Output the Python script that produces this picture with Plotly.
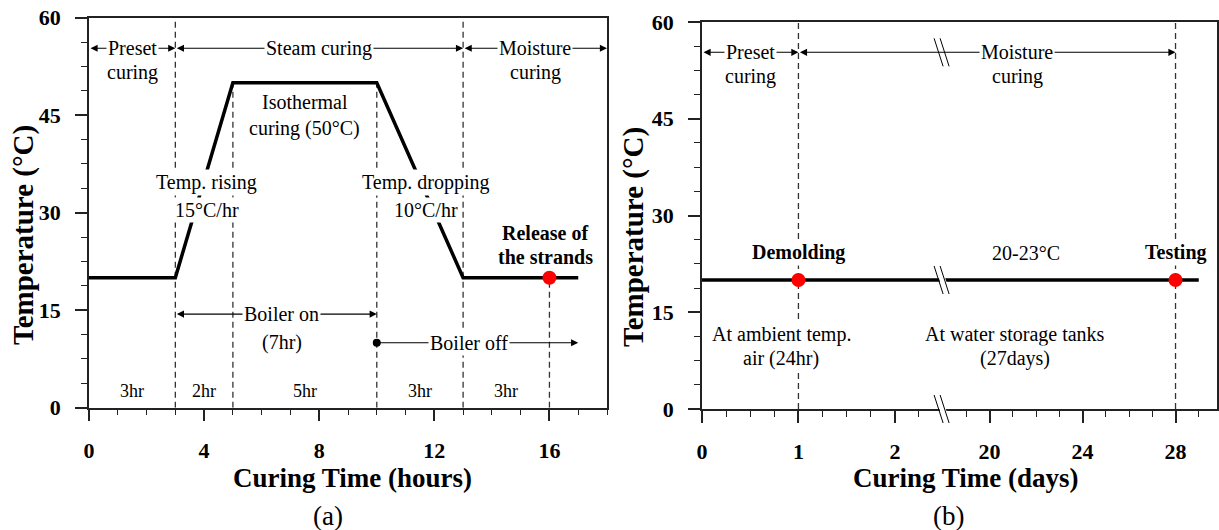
import plotly.graph_objects as go

FONT = "Liberation Serif"

# ---------------- Panel (a) data ----------------
hours_a = [0, 3, 5, 10, 13, 17]
temp_a = [20, 20, 50, 50, 20, 20]
guide_x_a = [3, 5, 10, 13, 16]
guide_top_a = [60, 50, 50, 60, 20]
release_hour = [16]
release_temp = [20]
dur_labels_a = ["3hr", "2hr", "5hr", "3hr", "3hr"]
dur_x_a = [1.5, 4, 7.5, 11.5, 14.5]
xticks_a = [0, 4, 8, 12, 16]
yticks = [0, 15, 30, 45, 60]

# ---------------- Panel (b) data ----------------
days_b = [0, 29]
temp_b = [20, 20]
event_days = [1, 28]
event_temp = [20, 20]
event_labels = ["Demolding", "Testing"]
guide_x_b = [1, 28]
xticks_b = [0, 1, 2, 20, 24, 28]
BREAK_LO, BREAK_HI = 2.5, 18      # broken axis: 0-2.5 days, then 18-29.8 days
LATE_SCALE = 0.241                  # compression of the late segment
RANGE_B = [0, 5.34]


def bx(d):
    return d if d <= BREAK_LO else BREAK_LO + (d - BREAK_HI) * LATE_SCALE


def frac_b(d):
    return (bx(d) - RANGE_B[0]) / (RANGE_B[1] - RANGE_B[0])


def vlines(xs, tops):
    X, Y = [], []
    for x, t in zip(xs, tops):
        X += [x, x, None]
        Y += [0, t, None]
    return X, Y


DASH = dict(color="#333", width=1.3, dash="6px,4px")

fig = go.Figure()

# panel (a)
gx, gy = vlines(guide_x_a, guide_top_a)
fig.add_trace(go.Scatter(x=gx, y=gy, mode="lines", line=DASH, xaxis="x", yaxis="y", showlegend=False))
fig.add_trace(go.Scatter(x=hours_a, y=temp_a, mode="lines", line=dict(color="black", width=3.5),
                         xaxis="x", yaxis="y", showlegend=False))
fig.add_trace(go.Scatter(x=release_hour, y=release_temp, mode="markers",
                         marker=dict(color="red", size=14, line=dict(width=0)),
                         xaxis="x", yaxis="y", showlegend=False))
fig.add_trace(go.Scatter(x=[10], y=[10], mode="markers", marker=dict(color="black", size=8),
                         xaxis="x", yaxis="y", showlegend=False))

# panel (b)
gx, gy = vlines([bx(d) for d in guide_x_b], [60, 60])
fig.add_trace(go.Scatter(x=gx, y=gy, mode="lines", line=DASH, xaxis="x2", yaxis="y2", showlegend=False))
fig.add_trace(go.Scatter(x=[bx(d) for d in days_b], y=temp_b, mode="lines",
                         line=dict(color="black", width=3.5), xaxis="x2", yaxis="y2", showlegend=False))
fig.add_trace(go.Scatter(x=[bx(d) for d in event_days], y=event_temp, mode="markers",
                         marker=dict(color="red", size=14, line=dict(width=0)),
                         xaxis="x2", yaxis="y2", showlegend=False))


def arr(xr, yr, x0, x1, y, both=False):
    return dict(xref=xr, yref=yr, x=x1, y=y, ax=x0, ay=y, axref=xr, ayref=yr, text="",
                showarrow=True, arrowhead=2, arrowsize=1.3, arrowwidth=1.1, arrowcolor="black",
                arrowside="end+start" if both else "end", startarrowhead=2, startarrowsize=1.3,
                standoff=0, startstandoff=0)


def txt(xr, yr, x, y, text, size=20, bold=False, bg="white"):
    return dict(xref=xr, yref=yr, x=x, y=y, text=text, showarrow=False,
                font=dict(family=FONT, size=size, color="black", weight="bold" if bold else "normal"),
                bgcolor=bg, borderpad=1, xanchor="center", yanchor="middle")


def ptxt(px, py, text, size, bold=False, angle=0):
    return dict(xref="paper", yref="paper", x=px / 1219, y=1 - py / 530, text=text, showarrow=False,
                xanchor="center", yanchor="middle", textangle=angle,
                font=dict(family=FONT, size=size, color="black", weight="bold" if bold else "normal"))


ann = []
# ---- panel (a) arrows
ann += [arr("x", "y", 0, 3, 55.3, True), arr("x", "y", 3, 13, 55.3, True),
        arr("x", "y", 13, 18, 55.3, True), arr("x", "y", 3, 10, 14.4, True),
        arr("x", "y", 10, 17, 10.0)]
# ---- panel (a) texts
ann += [txt("x", "y", 1.5, 55.3, "Preset"), txt("x", "y", 1.5, 51.6, "curing"),
        txt("x", "y", 8, 55.3, "Steam curing"),
        txt("x", "y", 15.5, 55.3, "Moisture"), txt("x", "y", 15.5, 51.6, "curing"),
        txt("x", "y", 7.5, 47.0, "Isothermal"), txt("x", "y", 7.5, 42.9, "curing (50°C)"),
        txt("x", "y", 4.1, 34.6, "Temp. rising"), txt("x", "y", 4.1, 30.4, "15°C/hr"),
        txt("x", "y", 11.7, 34.6, "Temp. dropping"), txt("x", "y", 11.7, 30.4, "10°C/hr"),
        txt("x", "y", 15.85, 26.9, "Release of", bold=True),
        txt("x", "y", 15.85, 23.2, "the strands", bold=True),
        txt("x", "y", 6.7, 14.4, "Boiler on"), txt("x", "y", 6.7, 10.1, "(7hr)"),
        txt("x", "y", 13.2, 10.0, "Boiler off")]
ann += [txt("x", "y", x, 2.6, t, size=18, bg=None) for x, t in zip(dur_x_a, dur_labels_a)]

# ---- panel (b) arrows
ann += [arr("x2", "y2", bx(0), bx(1), 55.3, True), arr("x2", "y2", bx(1), bx(28), 55.3, True)]
ann += [txt("x2", "y2", bx(0.5), 55.3, "Preset"), txt("x2", "y2", bx(0.5), 51.6, "curing"),
        txt("x2", "y2", bx(21.2), 55.3, "Moisture"), txt("x2", "y2", bx(21.2), 51.6, "curing"),
        txt("x2", "y2", bx(21.55), 24.2, "20-23°C"),
        txt("x2", "y2", bx(0.82), 11.5, "At ambient temp."), txt("x2", "y2", bx(0.82), 7.8, "air (24hr)"),
        txt("x2", "y2", bx(21.1), 11.5, "At water storage tanks"), txt("x2", "y2", bx(21.1), 7.8, "(27days)")]
ann += [txt("x2", "y2", bx(d), 24.2, t, bold=True) for d, t in zip(event_days, event_labels)]

# ---- axis titles and panel labels
ann += [ptxt(352, 478, "Curing Time (hours)", 27, bold=True),
        ptxt(966, 478, "Curing Time (days)", 27, bold=True),
        ptxt(328, 516, "(a)", 27),
        ptxt(948, 516, "(b)", 27),
        ptxt(23, 235, "Temperature (°C)", 29, bold=True, angle=-90),
        ptxt(633, 237, "Temperature (°C)", 29, bold=True, angle=-90)]

# ---- break marks on panel (b)
shapes = []
for yv in [55.3, 20, 0]:
    common = dict(xref="x2 domain", yref="y2 domain", xsizemode="pixel", ysizemode="pixel",
                  xanchor=frac_b(BREAK_LO), yanchor=yv / 60, layer="above")
    shapes.append(dict(type="line", x0=-5, y0=14, x1=4, y1=-14, line=dict(color="white", width=6), **common))
    shapes.append(dict(type="line", x0=-9, y0=14, x1=0, y1=-14, line=dict(color="black", width=1), **common))
    shapes.append(dict(type="line", x0=-3, y0=14, x1=6, y1=-14, line=dict(color="black", width=1), **common))

TICKFONT = dict(family=FONT, size=22, weight="bold", color="black")
axis_common = dict(showline=True, mirror=True, linecolor="#222", linewidth=1.5, ticks="outside",
                   ticklen=12, tickwidth=1.5, tickcolor="#222", showgrid=False, zeroline=False,
                   tickfont=TICKFONT, automargin=False)
MINOR = dict(ticklen=6, tickwidth=1.2, tickcolor="#222", ticks="outside")

minor_b = [i * 0.25 for i in range(0, 10) if i % 4 != 0] + [bx(d) for d in range(19, 30) if d % 4 != 0]

fig.update_layout(
    width=1219, height=530, margin=dict(l=0, r=0, t=0, b=0, pad=0), autosize=False,
    paper_bgcolor="white", plot_bgcolor="white",
    xaxis=dict(domain=[89 / 1219, 607 / 1219], range=[0, 18], anchor="y", tickvals=xticks_a,
               minor=dict(dtick=1, **MINOR), ticklabelstandoff=10, **axis_common),
    yaxis=dict(domain=[1 - 407.7 / 530, 1 - 17.7 / 530], range=[0, 60], anchor="x", tickvals=yticks,
               minor=dict(dtick=3.75, **MINOR), ticklabelstandoff=10, **axis_common),
    xaxis2=dict(domain=[702 / 1219, 1217 / 1219], range=RANGE_B, anchor="y2",
                tickvals=[bx(d) for d in xticks_b], ticktext=[str(d) for d in xticks_b],
                minor=dict(tickmode="array", tickvals=minor_b, **MINOR),
                ticklabelstandoff=10, **axis_common),
    yaxis2=dict(domain=[1 - 409 / 530, 1 - 22 / 530], range=[0, 60], anchor="x2", tickvals=yticks,
                minor=dict(dtick=3.75, **MINOR), ticklabelstandoff=10, **axis_common),
    annotations=ann, shapes=shapes,
)

fig.write_html("out.html")
